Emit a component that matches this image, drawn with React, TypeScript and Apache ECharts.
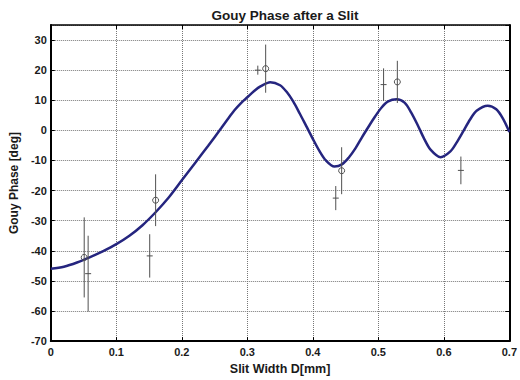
import React, { useEffect, useRef } from "react";
import * as echarts from "echarts";

// Fitted curve
const curveX = [0, 0.02, 0.04, 0.06, 0.08, 0.1, 0.12, 0.14, 0.16, 0.18, 0.2, 0.22, 0.24, 0.26, 0.27, 0.28, 0.29, 0.3, 0.31, 0.32, 0.335, 0.35, 0.36, 0.37, 0.38, 0.39, 0.4, 0.41, 0.42, 0.433, 0.445, 0.455, 0.465, 0.475, 0.485, 0.495, 0.505, 0.515, 0.528, 0.54, 0.55, 0.56, 0.57, 0.58, 0.595, 0.61, 0.62, 0.63, 0.64, 0.65, 0.667, 0.68, 0.69, 0.7];
const curveY = [-46, -45.3, -43.9, -42.1, -40.1, -37.8, -35.0, -31.5, -27.2, -22.3, -16.6, -10.9, -5.2, 0.7, 3.7, 6.6, 9.0, 11.0, 13.0, 14.6, 16.0, 15.0, 12.8, 9.6, 5.6, 1.4, -2.8, -6.8, -10.0, -12.0, -11.2, -9.0, -6.0, -2.3, 1.2, 4.6, 7.6, 9.6, 10.3, 9.2, 6.0, 1.8, -2.8, -6.5, -8.9, -7.0, -3.9, -0.2, 3.6, 6.5, 8.2, 7.0, 4.0, -0.5];

// Measurements marked with circles
const circleX = [0.051, 0.16, 0.328, 0.444, 0.529];
const circleY = [-42.2, -23.2, 20.5, -13.4, 16.1];
const circleErr = [13.3, 8.6, 8.0, 7.8, 7.0];

// Measurements marked with plus signs
const plusX = [0.057, 0.151, 0.316, 0.435, 0.508, 0.626];
const plusY = [-47.6, -41.7, 20.0, -22.5, 15.2, -13.3];
const plusErr = [12.6, 7.2, 1.5, 4.0, 5.4, 4.6];

const xTicks = { min: 0, max: 0.7, interval: 0.1 };
const yTicks = { min: -70, max: 35, interval: 10 };

const FONT = "'Liberation Sans', Arial, Helvetica, sans-serif";
const MARK = "#505050";

function makeRender(kind: "circle" | "plus") {
  return (params: any, api: any) => {
    const x = api.value(0);
    const y = api.value(1);
    const e = api.value(2);
    const c = api.coord([x, y]);
    const t = api.coord([x, y + e]);
    const b = api.coord([x, y - e]);
    const st = { stroke: MARK, lineWidth: 1, fill: null };
    const children: any[] = [
      { type: "line", shape: { x1: t[0], y1: t[1], x2: b[0], y2: b[1] }, style: st },
    ];
    if (kind === "circle") {
      children.push({ type: "circle", shape: { cx: c[0], cy: c[1], r: 3 }, style: { stroke: MARK, lineWidth: 1, fill: "rgba(255,255,255,0)" } });
    } else {
      children.push({ type: "line", shape: { x1: c[0] - 3, y1: c[1], x2: c[0] + 3, y2: c[1] }, style: st });
    }
    return { type: "group", children };
  };
}

export default function App() {
  const ref = useRef<HTMLDivElement>(null);
  useEffect(() => {
    if (!ref.current) return;
    const chart = echarts.init(ref.current, null, { renderer: "svg" });
    const tickLabel = { color: "#1a1a1a", fontFamily: FONT, fontSize: 11, fontWeight: "bold" as const };
    const split = { show: true, lineStyle: { color: "#777777", type: "dotted" as const, width: 1 } };
    chart.setOption({
      animation: false,
      backgroundColor: "#ffffff",
      title: {
        text: "Gouy Phase after a Slit",
        left: 285,
        top: 8,
        padding: 0,
        textAlign: "center",
        textStyle: { fontFamily: FONT, fontSize: 13.5, fontWeight: "bold", color: "#1a1a1a" },
      },
      grid: { left: 49, right: 8, top: 25, bottom: 33 },
      xAxis: [
        {
          type: "value",
          ...xTicks,
          name: "Slit Width D[mm]",
          nameLocation: "middle",
          nameGap: 26,
          nameTextStyle: { fontFamily: FONT, fontSize: 12.5, fontWeight: "bold", color: "#1a1a1a", verticalAlign: "middle" },
          axisLine: { show: true, onZero: false, lineStyle: { color: "#000", width: 2 } },
          axisTick: { show: true, inside: true, length: 4, lineStyle: { color: "#000" } },
          axisLabel: { ...tickLabel, margin: 5 },
          splitLine: split,
        },
        {
          type: "value",
          ...xTicks,
          position: "top",
          axisLine: { show: true, onZero: false, lineStyle: { color: "#000", width: 1.5 } },
          axisTick: { show: true, inside: true, length: 4, lineStyle: { color: "#000" } },
          axisLabel: { show: false },
          splitLine: { show: false },
        },
      ],
      yAxis: [
        {
          type: "value",
          ...yTicks,
          name: "Gouy Phase [deg]",
          nameLocation: "middle",
          nameGap: 28,
          nameTextStyle: { fontFamily: FONT, fontSize: 12, fontWeight: "bold", color: "#1a1a1a", verticalAlign: "middle" },
          axisLine: { show: true, onZero: false, lineStyle: { color: "#000", width: 2 } },
          axisTick: { show: true, inside: true, length: 4, lineStyle: { color: "#000" } },
          axisLabel: { ...tickLabel, margin: 4, showMaxLabel: false },
          splitLine: split,
        },
        {
          type: "value",
          ...yTicks,
          position: "right",
          axisLine: { show: true, onZero: false, lineStyle: { color: "#000", width: 2 } },
          axisTick: { show: true, inside: true, length: 4, lineStyle: { color: "#000" } },
          axisLabel: { show: false },
          splitLine: { show: false },
        },
      ],
      series: [
        {
          type: "line",
          data: curveX.map((x, i) => [x, curveY[i]]),
          smooth: 0.3,
          showSymbol: false,
          lineStyle: { color: "#25257f", width: 2.5 },
          z: 3,
        },
        {
          type: "custom",
          renderItem: makeRender("circle"),
          data: circleX.map((x, i) => [x, circleY[i], circleErr[i]]),
          encode: { x: 0, y: 1 },
          z: 4,
        },
        {
          type: "custom",
          renderItem: makeRender("plus"),
          data: plusX.map((x, i) => [x, plusY[i], plusErr[i]]),
          encode: { x: 0, y: 1 },
          z: 4,
        },
      ],
    });
    return () => chart.dispose();
  }, []);
  return <div ref={ref} style={{ position: "absolute", left: 0, top: 0, width: 520, height: 380 }} />;
}
